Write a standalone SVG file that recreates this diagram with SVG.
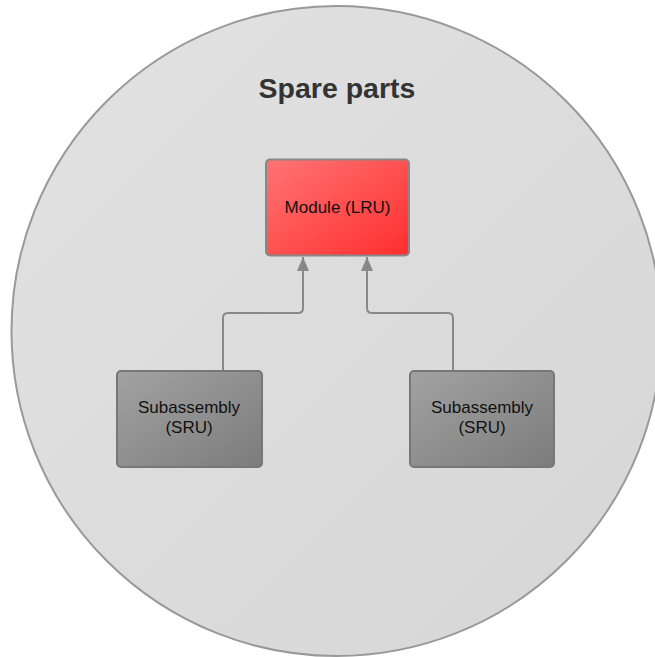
<svg xmlns="http://www.w3.org/2000/svg" width="655" height="657" viewBox="0 0 655 657">
  <style>
    .label { font-family: "Liberation Sans", Arial, sans-serif; font-size: 17px; fill: #111; text-anchor: middle; }
    .title { font-family: "Liberation Sans", Arial, sans-serif; font-size: 28.5px; font-weight: bold; fill: #333; text-anchor: middle; }
    .edge { fill: none; stroke: #888; stroke-width: 2; }
  </style>
  <defs>
    <linearGradient id="gCircle" x1="0" y1="0" x2="1" y2="1">
      <stop offset="0" stop-color="#e2e2e2"/>
      <stop offset="1" stop-color="#d6d6d6"/>
    </linearGradient>
    <linearGradient id="gRed" x1="0" y1="0" x2="1" y2="1">
      <stop offset="0" stop-color="#ff7474"/>
      <stop offset="1" stop-color="#ff2e2e"/>
    </linearGradient>
    <linearGradient id="gGrey" x1="0" y1="0" x2="1" y2="1">
      <stop offset="0" stop-color="#a2a2a2"/>
      <stop offset="1" stop-color="#7c7c7c"/>
    </linearGradient>
    <!-- arrowhead drawn along +x so orient="auto" points it along the path -->
    <marker id="arrow" viewBox="0 0 14 12" refX="14" refY="6" markerWidth="14" markerHeight="12" markerUnits="userSpaceOnUse" orient="auto">
      <path d="M0 0 L14 6 L0 12 Z" fill="#888"/>
    </marker>
  </defs>

  <g id="container">
    <circle cx="336.5" cy="331" r="325" fill="url(#gCircle)" stroke="#999" stroke-width="2"/>
    <text class="title" x="337" y="98">Spare parts</text>
  </g>

  <g id="connectors">
    <path class="edge" d="M223 371 V318 Q223 313 228 313 H298 Q303 313 303 308 V257" marker-end="url(#arrow)"/>
    <path class="edge" d="M453 371 V318 Q453 313 448 313 H372 Q367 313 367 308 V257" marker-end="url(#arrow)"/>
  </g>

  <g id="module-lru">
    <rect x="266" y="159.5" width="143" height="96" rx="4" fill="url(#gRed)" stroke="#888" stroke-width="2"/>
    <text class="label" x="337.5" y="213">Module (LRU)</text>
  </g>

  <g id="subassembly-left">
    <rect x="117" y="371" width="145" height="96" rx="4" fill="url(#gGrey)" stroke="#777" stroke-width="2"/>
    <text class="label" x="189" y="413">Subassembly</text>
    <text class="label" x="189" y="433">(SRU)</text>
  </g>

  <g id="subassembly-right">
    <rect x="410" y="371" width="144" height="96" rx="4" fill="url(#gGrey)" stroke="#777" stroke-width="2"/>
    <text class="label" x="482" y="413">Subassembly</text>
    <text class="label" x="482" y="433">(SRU)</text>
  </g>
</svg>
